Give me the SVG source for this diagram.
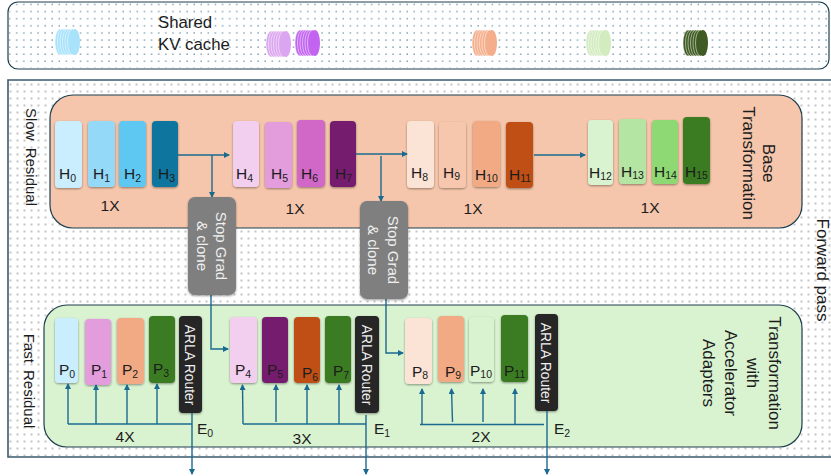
<svg xmlns="http://www.w3.org/2000/svg" xmlns:xlink="http://www.w3.org/1999/xlink" width="831" height="476" viewBox="0 0 831 476">
<style>
text{font-family:"Liberation Sans",Arial,sans-serif;fill:#1c1c1c;font-size:15.5px}
.c{text-anchor:middle;font-size:15.5px}
.s{font-size:10.5px}
.panel{stroke:#1d3f50;stroke-width:1.2}
.box{filter:url(#sh)}
.lbl{font-size:16.8px}
.w{fill:#f0f0f0;font-size:15px;text-anchor:middle}
.rt{fill:#f0f0f0;font-size:13.8px;text-anchor:middle}
.r{text-anchor:middle;font-size:17px}
.sr{text-anchor:middle;font-size:15px;word-spacing:3px}
.ln{fill:none;stroke:#1a6a90;stroke-width:1.4}
.ar{marker-end:url(#ah)}
.st{stroke:#fff;stroke-width:.6;stroke-opacity:.85}
</style>
<defs>
<filter id="sh" x="-20%" y="-10%" width="140%" height="125%"><feDropShadow dx="0" dy="1" stdDeviation="1" flood-color="#000" flood-opacity=".4"/></filter>
<marker id="ah" markerWidth="6" markerHeight="6" refX="5" refY="3" orient="auto" markerUnits="userSpaceOnUse"><path d="M0,0L6,3L0,6Z" fill="#1a6a90"/></marker>
<pattern id="d1" x="1.5" y="3.5" width="7.1" height="7.1" patternUnits="userSpaceOnUse"><circle cx="1" cy="1" r=".7" fill="#4f7f99"/></pattern>
<pattern id="d2" x="2.5" y="83.5" width="7" height="7" patternUnits="userSpaceOnUse"><rect x=".5" y=".5" width="1" height="1" fill="#111"/></pattern>
<g id="stack">
<ellipse class="st" cx="5" cy="13" rx="5" ry="13"/><ellipse class="st" cx="7.500" cy="13" rx="5" ry="13"/><ellipse class="st" cx="10" cy="13" rx="5" ry="13"/><ellipse class="st" cx="12.500" cy="13" rx="5" ry="13"/><ellipse class="st" cx="15" cy="13" rx="5" ry="13"/><ellipse class="st" cx="17.500" cy="13" rx="5" ry="13"/><ellipse cx="20" cy="13" rx="5" ry="13"/>
</g>
</defs>

<g id="cache-panel">
<rect class="panel" x="8" y="2" width="821" height="67" rx="10" fill="#fff"/>
<rect x="9" y="3" width="819" height="65" rx="10" fill="url(#d1)"/>
<text class="lbl" x="158" y="28">Shared</text>
<text class="lbl" x="158" y="50">KV cache</text>
</g>
<g id="cache-0"><use xlink:href="#stack" href="#stack" x="55" y="29" fill="#a8e2fb"/></g>
<g id="cache-1"><use xlink:href="#stack" href="#stack" x="266" y="31" fill="#dba6ef"/></g>
<g id="cache-2"><use xlink:href="#stack" href="#stack" x="295" y="30" fill="#c264ef"/></g>
<g id="cache-3"><use xlink:href="#stack" href="#stack" x="472" y="30" fill="#f4ae8c"/></g>
<g id="cache-4"><use xlink:href="#stack" href="#stack" x="586" y="30" fill="#d2ebbf"/></g>
<g id="cache-5"><use xlink:href="#stack" href="#stack" x="683" y="30" fill="#3f5a22"/></g>

<g id="forward-pass">
<path d="M831,80H8V457H831" fill="#fff"/>
<rect x="9" y="81" width="822" height="375" fill="url(#d2)"/>
<path d="M831,80H8V457H831" fill="none" stroke="#3a5a6c" stroke-width="1.6"/>
<text class="r" transform="translate(817 270) rotate(90)">Forward pass</text>
<text class="sr" transform="translate(26 157) rotate(90)">Slow Residual</text>
<text class="sr" transform="translate(24 381) rotate(90)">Fast Residual</text>
</g>

<g id="base-panel">
<rect class="panel" x="50" y="95" width="752" height="133" rx="23" fill="#f5c6ab"/>
<text class="r" transform="translate(763 163) rotate(90)">Base</text>
<text class="r" transform="translate(743 163) rotate(90)">Transformation</text>
<text class="c" x="110" y="211">1X</text>
<text class="c" x="295" y="214">1X</text>
<text class="c" x="473" y="214">1X</text>
<text class="c" x="650" y="213">1X</text>
</g>
<g id="fast-panel">
<rect class="panel" x="44" y="305" width="758" height="142" rx="23" fill="#d9f2d0"/>
<text class="r" transform="translate(769 373) rotate(90)">Transformation</text>
<text class="r" transform="translate(747 373) rotate(90)">with</text>
<text class="r" transform="translate(725 373) rotate(90)">Accelerator</text>
<text class="r" transform="translate(703 373) rotate(90)">Adapters</text>
<text class="c" x="125" y="442">4X</text>
<text class="c" x="302" y="444">3X</text>
<text class="c" x="481" y="442">2X</text>
</g>

<g id="H0"><rect class="box" x="55" y="121" width="27" height="67" rx="4" fill="#caeefe"/><text x="59" y="179">H<tspan class="s" dy="3">0</tspan></text></g>
<g id="H1"><rect class="box" x="88" y="121" width="27" height="66" rx="4" fill="#94d9f8"/><text x="93" y="179">H<tspan class="s" dy="3">1</tspan></text></g>
<g id="H2"><rect class="box" x="119" y="121" width="27" height="66" rx="4" fill="#5fc8f2"/><text x="124" y="179">H<tspan class="s" dy="3">2</tspan></text></g>
<g id="H3"><rect class="box" x="152" y="121" width="26" height="66" rx="4" fill="#0e749e"/><text x="158" y="179">H<tspan class="s" dy="3">3</tspan></text></g>
<g id="H4"><rect class="box" x="233" y="121" width="26" height="66" rx="4" fill="#f2ceef"/><text x="236" y="179">H<tspan class="s" dy="3">4</tspan></text></g>
<g id="H5"><rect class="box" x="265" y="122" width="27" height="66" rx="4" fill="#e39ddc"/><text x="271" y="179">H<tspan class="s" dy="3">5</tspan></text></g>
<g id="H6"><rect class="box" x="297" y="120" width="28" height="67" rx="4" fill="#d167c7"/><text x="301" y="179">H<tspan class="s" dy="3">6</tspan></text></g>
<g id="H7"><rect class="box" x="330" y="121" width="26" height="66" rx="4" fill="#761f6e"/><text x="335" y="179">H<tspan class="s" dy="3">7</tspan></text></g>
<g id="H8"><rect class="box" x="407" y="121" width="27" height="67" rx="4" fill="#fbe3d6"/><text x="411" y="178">H<tspan class="s" dy="3">8</tspan></text></g>
<g id="H9"><rect class="box" x="439" y="122" width="27" height="66" rx="4" fill="#f6c6ad"/><text x="443" y="178">H<tspan class="s" dy="2">9</tspan></text></g>
<g id="H10"><rect class="box" x="473" y="121" width="27" height="66" rx="4" fill="#f2aa84"/><text x="475" y="180">H<tspan class="s" dy="2">10</tspan></text></g>
<g id="H11"><rect class="box" x="506" y="122" width="27" height="66" rx="4" fill="#c04f15"/><text x="509" y="180">H<tspan class="s" dy="2">11</tspan></text></g>
<g id="H12"><rect class="box" x="588" y="120" width="25" height="65" rx="4" fill="#d9f2d0"/><text x="589" y="178">H<tspan class="s" dy="2">12</tspan></text></g>
<g id="H13"><rect class="box" x="619" y="119" width="27" height="65" rx="4" fill="#b4e5a2"/><text x="621" y="177">H<tspan class="s" dy="2">13</tspan></text></g>
<g id="H14"><rect class="box" x="652" y="120" width="26" height="64" rx="4" fill="#8ed973"/><text x="654" y="177">H<tspan class="s" dy="2">14</tspan></text></g>
<g id="H15"><rect class="box" x="683" y="117" width="27" height="67" rx="4" fill="#3a7c22"/><text x="685" y="177">H<tspan class="s" dy="2">15</tspan></text></g>

<g id="P0"><rect class="box" x="55" y="318" width="23" height="65" rx="4" fill="#caeefe"/><text x="59" y="375">P<tspan class="s" dy="3">0</tspan></text></g>
<g id="P1"><rect class="box" x="85" y="319" width="26" height="66" rx="4" fill="#e39ddc"/><text x="91" y="375">P<tspan class="s" dy="3">1</tspan></text></g>
<g id="P2"><rect class="box" x="117" y="318" width="27" height="66" rx="4" fill="#f2aa84"/><text x="122" y="375">P<tspan class="s" dy="3">2</tspan></text></g>
<g id="P3"><rect class="box" x="149" y="316" width="26" height="67" rx="4" fill="#3a7c22"/><text x="153" y="374">P<tspan class="s" dy="3">3</tspan></text></g>
<g id="router-0"><rect class="box" x="179" y="316" width="23" height="97" rx="4" fill="#262626"/><text class="rt" transform="translate(185 365) rotate(90)">ARLA Router</text></g>
<g id="P4"><rect class="box" x="230" y="317" width="27" height="66" rx="4" fill="#f2ceef"/><text x="235" y="375">P<tspan class="s" dy="3">4</tspan></text></g>
<g id="P5"><rect class="box" x="262" y="317" width="26" height="66" rx="4" fill="#761f6e"/><text x="267" y="375">P<tspan class="s" dy="3">5</tspan></text></g>
<g id="P6"><rect class="box" x="294" y="317" width="26" height="66" rx="4" fill="#c04f15"/><text x="302" y="378">P<tspan class="s" dy="3">6</tspan></text></g>
<g id="P7"><rect class="box" x="325" y="316" width="26" height="67" rx="4" fill="#3a7c22"/><text x="333" y="376">P<tspan class="s" dy="3">7</tspan></text></g>
<g id="router-1"><rect class="box" x="355" y="316" width="24" height="97" rx="4" fill="#262626"/><text class="rt" transform="translate(362 365) rotate(90)">ARLA Router</text></g>
<g id="P8"><rect class="box" x="405" y="318" width="27" height="66" rx="4" fill="#fbe3d6"/><text x="412" y="377">P<tspan class="s" dy="2">8</tspan></text></g>
<g id="P9"><rect class="box" x="438" y="316" width="26" height="66" rx="4" fill="#f2aa84"/><text x="445" y="377">P<tspan class="s" dy="2">9</tspan></text></g>
<g id="P10"><rect class="box" x="469" y="317" width="25" height="65" rx="4" fill="#d9f2d0"/><text x="470" y="376">P<tspan class="s" dy="2">10</tspan></text></g>
<g id="P11"><rect class="box" x="501" y="315" width="27" height="67" rx="4" fill="#3a7c22"/><text x="504" y="376">P<tspan class="s" dy="2">11</tspan></text></g>
<g id="router-2"><rect class="box" x="535" y="314" width="23" height="97" rx="4" fill="#262626"/><text class="rt" transform="translate(541 363) rotate(90)">ARLA Router</text></g>

<g id="E-labels">
<text x="197" y="434">E<tspan class="s" dy="3">0</tspan></text>
<text x="374" y="434">E<tspan class="s" dy="3">1</tspan></text>
<text x="554" y="434">E<tspan class="s" dy="3">2</tspan></text>
</g>

<g id="connectors">
<path class="ln ar" d="M178,155H229"/>
<path class="ln ar" d="M212,155V197"/>
<path class="ln ar" d="M356,154H407"/>
<path class="ln ar" d="M381,156V201"/>
<path class="ln ar" d="M534,155H585"/>
<path class="ln ar" d="M211,295V349H228"/>
<path class="ln ar" d="M386,299V353H403"/>
<path class="ln" d="M68,424H192"/>
<path class="ln ar" d="M68,424V384"/>
<path class="ln ar" d="M96,424V385"/>
<path class="ln ar" d="M127,424V385"/>
<path class="ln ar" d="M157,424V384"/>
<path class="ln ar" d="M192,413V474"/>
<path class="ln" d="M243,424H366"/>
<path class="ln ar" d="M243,424L242.500,385"/>
<path class="ln ar" d="M276,422V385"/>
<path class="ln ar" d="M307,424V385"/>
<path class="ln ar" d="M339,424V385"/>
<path class="ln ar" d="M366,415V474"/>
<path class="ln" d="M420,424.500H544"/>
<path class="ln ar" d="M422,424V389"/>
<path class="ln ar" d="M452.500,422L451.500,389"/>
<path class="ln ar" d="M483,422V389"/>
<path class="ln ar" d="M515,424V389"/>
<path class="ln ar" d="M547,411V474"/>
</g>

<g id="stop-grad-0"><rect class="box" x="188" y="197" width="48" height="98" rx="7" fill="#7f7f7f"/><text class="w" transform="translate(216 246) rotate(90)">Stop Grad</text><text class="w" transform="translate(197 246) rotate(90)">&amp; clone</text></g>
<g id="stop-grad-1"><rect class="box" x="360" y="201" width="48" height="98" rx="7" fill="#7f7f7f"/><text class="w" transform="translate(388 250) rotate(90)">Stop Grad</text><text class="w" transform="translate(368 250) rotate(90)">&amp; clone</text></g>
</svg>
